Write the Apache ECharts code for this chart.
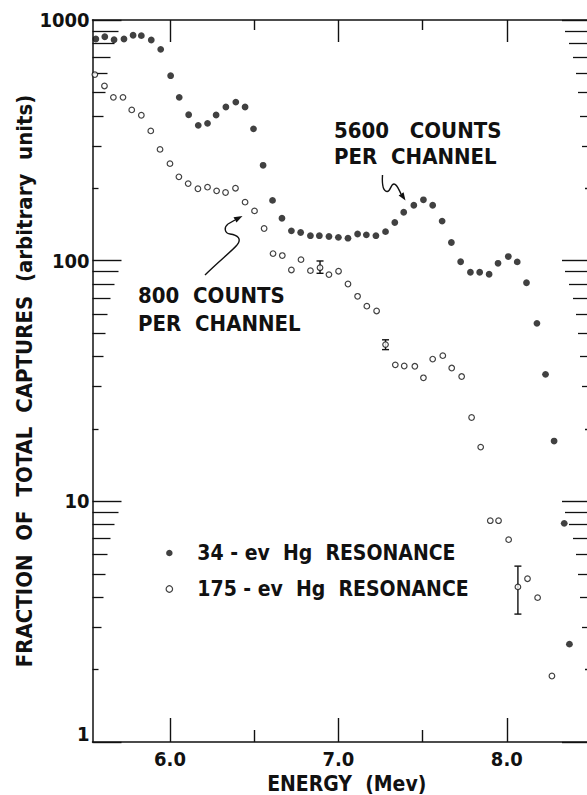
<!DOCTYPE html>
<html>
<head>
<meta charset="utf-8">
<script src="https://cdn.jsdelivr.net/npm/echarts@6/dist/echarts.min.js"></script>
<style>
  html, body { margin: 0; padding: 0; background: #fff; }
  #chart { width: 587px; height: 795px; }
</style>
</head>
<body>
<div id="chart"></div>
<script>
// ---- data ----
const energy34 = [5.560,5.613,5.668,5.727,5.781,5.830,5.889,5.945,6.004,6.055,6.111,6.168,6.223,6.274,6.332,6.391,6.446,6.496,6.553,6.609,6.665,6.721,6.776,6.834,6.887,6.944,7.000,7.057,7.114,7.166,7.223,7.280,7.335,7.388,7.448,7.505,7.560,7.616,7.671,7.726,7.784,7.839,7.895,7.948,8.009,8.062,8.117,8.179,8.230,8.281,8.341,8.372];
const captures34 = [834,852,828,834,864,861,826,755,587,477,404,365,372,403,435,456,435,353,249,178,150,133,131,127,127,126,125,124,129,128,127,132,144,159,170,179,170,146,119,99,89.5,89.5,87.8,97.5,104,98.8,81,54.9,33.7,17.8,8.1,2.55];

const energy175 = [5.554,5.611,5.664,5.721,5.773,5.830,5.886,5.941,6.000,6.053,6.108,6.166,6.223,6.277,6.330,6.389,6.446,6.502,6.559,6.612,6.667,6.721,6.778,6.834,6.891,6.944,7.001,7.057,7.114,7.169,7.227,7.280,7.338,7.391,7.454,7.505,7.560,7.620,7.673,7.732,7.791,7.845,7.902,7.951,8.011,8.066,8.123,8.183,8.268];
const captures175 = [593,532,477,477,423,402,346,290,253,223,209,199,202,195,192,200,175,161,136,107,105,91.5,101,90.9,93.5,87.5,90.4,80,71.1,64.7,61.8,44.8,36.9,36.5,36.4,32.6,39,40.3,35.8,33,22.3,16.8,8.31,8.31,6.93,4.41,4.77,3.98,1.88];

const errEnergy = [6.891, 7.280, 8.066];
const errLow = [88.6, 42.7, 3.40];
const errHigh = [99.7, 46.9, 5.38];

const xMajorTicks = [6.0, 7.0, 8.0];
const xMinorTicks = [6.5, 7.5];
const yDecades = [1, 10, 100, 1000];
const yMinorMultipliers = [2, 3, 4, 5, 6, 7, 8, 9];

const seriesNames = ['34-ev Hg RESONANCE', '175-ev Hg RESONANCE'];
const xTitle = 'ENERGY (Mev)';
const yTitle = 'FRACTION OF TOTAL CAPTURES (arbitrary units)';

// ---- styling ----
const FONT = '"DejaVu Sans Condensed", "DejaVu Sans", sans-serif';
const INK = '#111111';
const minorLen = {2: 6, 3: 9, 4: 11, 5: 13, 6: 15, 7: 18, 8: 22, 9: 26};

const chart = echarts.init(document.getElementById('chart'), null, { renderer: 'svg' });

const zip = (a, b) => a.map((v, i) => [v, b[i]]);
const errData = errEnergy.map((e, i) => [e, errLow[i], errHigh[i]]);

const xAxes = [
  { // bottom, major with labels
    type: 'value', position: 'bottom', min: 5.54, max: 8.5,
    axisLine: { show: true, onZero: false, lineStyle: { color: INK, width: 1.5 } },
    axisTick: { show: true, inside: true, length: 24, customValues: xMajorTicks, lineStyle: { color: INK, width: 1.4 } },
    axisLabel: { show: true, customValues: xMajorTicks, margin: 7, color: INK, fontFamily: FONT, fontWeight: 'bold', fontSize: 20,
                 formatter: v => Number(v).toFixed(1) },
    splitLine: { show: false },
    name: xTitle.replace(' (', '  ('), nameLocation: 'middle', nameGap: 30,
    nameTextStyle: { color: INK, fontFamily: FONT, fontWeight: 'bold', fontSize: 21, padding: [0, 0, 0, 10] }
  },
  { type: 'value', position: 'bottom', min: 5.54, max: 8.5,
    axisLine: { show: false, onZero: false }, axisLabel: { show: false }, splitLine: { show: false },
    axisTick: { show: true, inside: true, length: 12, customValues: xMinorTicks, lineStyle: { color: INK, width: 1.4 } } },
  { type: 'value', position: 'top', min: 5.54, max: 8.5,
    axisLine: { show: true, onZero: false, lineStyle: { color: INK, width: 1.5 } }, axisLabel: { show: false }, splitLine: { show: false },
    axisTick: { show: true, inside: true, length: 22, customValues: xMajorTicks, lineStyle: { color: INK, width: 1.4 } } },
  { type: 'value', position: 'top', min: 5.54, max: 8.5,
    axisLine: { show: false, onZero: false }, axisLabel: { show: false }, splitLine: { show: false },
    axisTick: { show: true, inside: true, length: 10, customValues: xMinorTicks, lineStyle: { color: INK, width: 1.4 } } }
];

const yAxes = [
  { type: 'log', logBase: 10, min: 1, max: 1000, position: 'left', splitNumber: 3,
    axisLine: { show: true, onZero: false, lineStyle: { color: INK, width: 1.5 } },
    axisTick: { show: true, inside: true, length: 29, lineStyle: { color: INK, width: 1.4 } },
    axisLabel: { show: true, margin: 3, color: INK, fontFamily: FONT, fontWeight: 'bold', fontSize: 20,
                 showMinLabel: true, showMaxLabel: true,
                 formatter: v => (Math.round(v) === 1 ? '{one|1}' : String(Math.round(v))),
                 rich: { one: { fontFamily: FONT, fontWeight: 'bold', fontSize: 20, color: INK, padding: [0, 0, 16, 0] } } },
    splitLine: { show: false },
    name: yTitle.replace(/ /g, '  '), nameLocation: 'middle', nameRotate: 90, nameGap: 57, nameMoveOverlap: false,
    nameTextStyle: { color: INK, fontFamily: FONT, fontWeight: 'bold', fontSize: 22 }
  },
  { type: 'log', logBase: 10, min: 1, max: 1000, position: 'right', splitNumber: 3,
    axisLine: { show: true, onZero: false, lineStyle: { color: INK, width: 1.5 } },
    axisTick: { show: true, inside: true, length: 29, lineStyle: { color: INK, width: 1.4 } },
    axisLabel: { show: false }, splitLine: { show: false } }
];
['left', 'right'].forEach(pos => {
  yMinorMultipliers.forEach(m => {
    yAxes.push({
      type: 'value', min: 0, max: 3, position: pos,
      axisLine: { show: false, onZero: false }, axisLabel: { show: false }, splitLine: { show: false },
      axisTick: { show: true, inside: true, length: minorLen[m],
                  customValues: yDecades.slice(0, 3).map(d => Math.log10(d * m)),
                  lineStyle: { color: INK, width: 1.3 } }
    });
  });
});

const curveStyle = { fill: 'none', stroke: INK, lineWidth: 1.4 };
const bez = (x1, y1, c1x, c1y, c2x, c2y, x2, y2) => ({
  type: 'bezierCurve', shape: { x1, y1, cpx1: c1x, cpy1: c1y, cpx2: c2x, cpy2: c2y, x2, y2 }, style: curveStyle
});
const annoText = (text, x, y) => ({
  type: 'text', x, y, style: { text, fill: INK, font: 'bold 22px ' + FONT, textAlign: 'left', textVerticalAlign: 'middle' }
});

const option = {
  backgroundColor: '#ffffff',
  animation: false,
  grid: { left: 92.5, right: -4, top: 20, bottom: 53, containLabel: false, outerBoundsMode: 'none' },
  xAxis: xAxes,
  yAxis: yAxes,
  legend: {
    orient: 'vertical', left: 160.5, top: 536, padding: 5,
    itemWidth: 46, itemHeight: 6.5, itemGap: 12,
    selectedMode: false,
    textStyle: { color: INK, fontFamily: FONT, fontWeight: 'bold', fontSize: 21, lineHeight: 24 },
    formatter: n => n.replace('-', ' - ').replace(' Hg ', '  Hg  '),
    data: [
      { name: seriesNames[0], icon: 'circle', itemStyle: { color: INK, borderWidth: 0 } },
      { name: seriesNames[1], icon: 'circle', itemStyle: { color: '#fff', borderColor: INK, borderWidth: 1.2 } }
    ]
  },
  series: [
    {
      name: 'errors', type: 'custom', xAxisIndex: 0, yAxisIndex: 0, z: 2,
      data: errData, encode: { x: 0, y: [1, 2] },
      renderItem: (params, api) => {
        const x = api.value(0);
        const lo = api.coord([x, api.value(1)]);
        const hi = api.coord([x, api.value(2)]);
        const w = 3.5;
        const st = { stroke: INK, lineWidth: 1.4 };
        return { type: 'group', children: [
          { type: 'line', shape: { x1: lo[0], y1: lo[1], x2: hi[0], y2: hi[1] }, style: st },
          { type: 'line', shape: { x1: lo[0] - w, y1: lo[1], x2: lo[0] + w, y2: lo[1] }, style: st },
          { type: 'line', shape: { x1: hi[0] - w, y1: hi[1], x2: hi[0] + w, y2: hi[1] }, style: st }
        ] };
      }
    },
    {
      name: seriesNames[0], type: 'scatter', xAxisIndex: 0, yAxisIndex: 0, z: 3,
      symbol: 'circle', symbolSize: 6.8,
      itemStyle: { color: INK, borderWidth: 0 },
      data: zip(energy34, captures34)
    },
    {
      name: seriesNames[1], type: 'scatter', xAxisIndex: 0, yAxisIndex: 0, z: 3,
      symbol: 'circle', symbolSize: 5.6,
      itemStyle: { color: '#fff', borderColor: INK, borderWidth: 1.2 },
      data: zip(energy175, captures175)
    }
  ],
  graphic: [
    annoText('5600   COUNTS', 334, 130),
    annoText('PER  CHANNEL', 334, 156),
    annoText('800  COUNTS', 138, 295),
    annoText('PER  CHANNEL', 138, 323),
    bez(205, 275, 218, 262, 232, 251, 237, 245),
    bez(237, 245, 242, 239, 238, 235, 230, 234),
    bez(230, 234, 224, 233, 224, 227, 228, 224),
    { type: 'line', shape: { x1: 228, y1: 224, x2: 235, y2: 220 }, style: curveStyle },
    { type: 'polygon', shape: { points: [[242.5, 216], [236.5, 222.6], [233.5, 217.3]] }, style: { fill: INK } },
    bez(382.5, 175, 382, 183, 383, 191, 387, 191.5),
    bez(387, 191.5, 390.5, 192, 390.5, 184, 394, 184),
    bez(394, 184, 397, 184, 398.5, 189, 401, 194),
    { type: 'polygon', shape: { points: [[405.5, 200.5], [403.6, 192.2], [398.6, 195.6]] }, style: { fill: INK } }
  ]
};

chart.setOption(option);
</script>
</body>
</html>
